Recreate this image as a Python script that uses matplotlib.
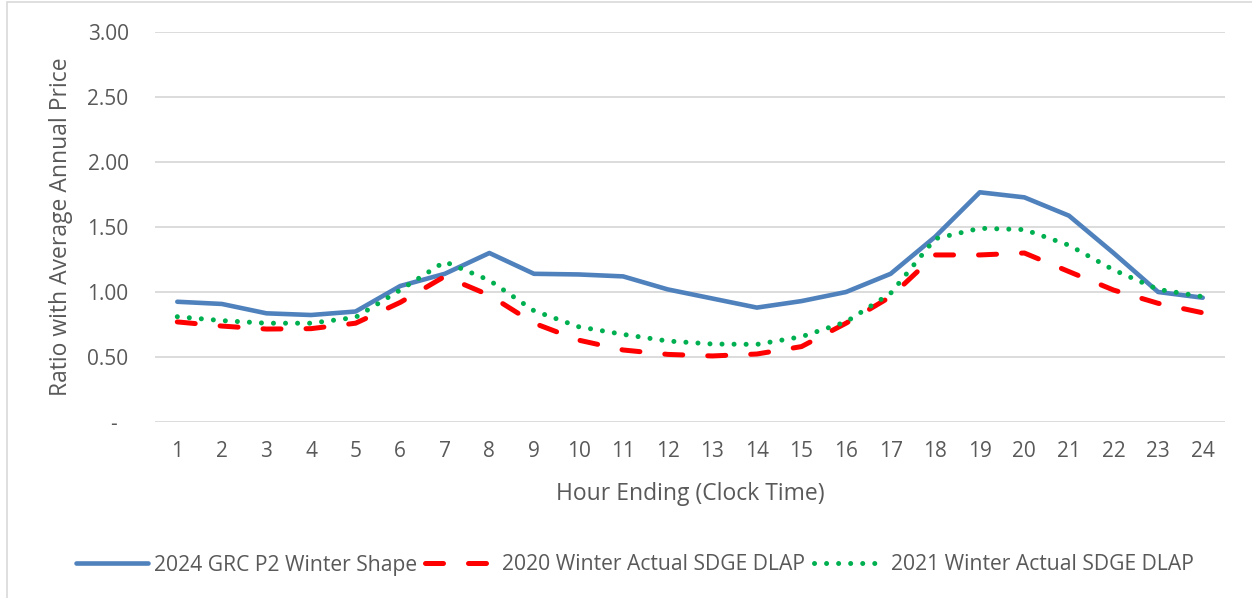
import matplotlib
matplotlib.use("Agg")
import matplotlib.pyplot as plt
from matplotlib.patches import Rectangle

hours = list(range(1, 25))
grc_2024 = [0.925, 0.908, 0.836, 0.823, 0.85, 1.046, 1.14, 1.30, 1.14, 1.135, 1.12, 1.02,
            0.95, 0.88, 0.93, 1.00, 1.14, 1.425, 1.767, 1.728, 1.587, 1.30, 1.00, 0.956]
act_2020 = [0.77, 0.738, 0.715, 0.718, 0.76, 0.92, 1.12, 0.975, 0.76, 0.63, 0.554, 0.52,
            0.508, 0.523, 0.58, 0.76, 0.964, 1.285, 1.285, 1.30, 1.157, 1.015, 0.913, 0.84]
act_2021 = [0.81, 0.78, 0.76, 0.76, 0.805, 1.015, 1.233, 1.09, 0.856, 0.733, 0.674, 0.623,
            0.60, 0.597, 0.656, 0.77, 0.99, 1.41, 1.49, 1.48, 1.36, 1.17, 1.02, 0.964]
series_names = ["2024 GRC P2 Winter Shape", "2020 Winter Actual SDGE DLAP",
                "2021 Winter Actual SDGE DLAP"]
y_ticks = [0, 0.5, 1.0, 1.5, 2.0, 2.5, 3.0]
y_tick_labels = ["-  ", "0.50", "1.00", "1.50", "2.00", "2.50", "3.00"]

plt.rcParams['font.family'] = ['Open Sans', 'DejaVu Sans']
txt = '#595959'
fs_tick = 15
fs_label = 16.5
fs_leg = 15.2

fig = plt.figure(figsize=(12.52, 5.98), dpi=100)
fig.patches.append(Rectangle((7/1252, -0.05), 1.2, 1 - 2/598 + 0.05,
                             transform=fig.transFigure, fill=False,
                             edgecolor='#d9d9d9', lw=1.2))
ax = fig.add_axes([155/1252, 1 - 422/598, (1225 - 155)/1252, (422 - 32)/598])

ax.plot(hours, grc_2024, color='#4f81bd', lw=3.3, solid_capstyle='round',
        solid_joinstyle='round', label=series_names[0], zorder=3)
ax.plot(hours, act_2020, color='#ff0000', lw=3.6, dash_capstyle='round',
        dashes=(3.6, 5.0), label=series_names[1], zorder=4)
ax.plot(hours, act_2021, color='#00b050', lw=3.6, dash_capstyle='round',
        dashes=(0.01, 2.4), label=series_names[2], zorder=5)

ax.set_xlim(0.5, 24.5)
ax.set_ylim(0, 3.0)
ax.set_yticks(y_ticks)
ax.set_yticklabels(y_tick_labels)
ax.set_xticks(hours)
ax.set_xticklabels([str(h) for h in hours])
ax.grid(axis='y', color='#d9d9d9', lw=1.3)
ax.set_axisbelow(True)
for s in ax.spines.values():
    s.set_visible(False)
ax.tick_params(axis='both', length=0, colors=txt, labelsize=fs_tick)
ax.tick_params(axis='y', pad=19)
ax.tick_params(axis='x', pad=14)
ax.set_ylabel("Ratio with Average Annual Price", color=txt, fontsize=fs_label, labelpad=10)
ax.set_xlabel("Hour Ending (Clock Time)", color=txt, fontsize=fs_label, labelpad=14)

leg = fig.legend(loc='center', bbox_to_anchor=(635/1252, 1 - 565/598), ncol=3,
                 frameon=False, fontsize=fs_leg, handlelength=3.4, handletextpad=0.25,
                 columnspacing=0.4, labelcolor=txt)

fig.savefig("out.png", dpi=100)
